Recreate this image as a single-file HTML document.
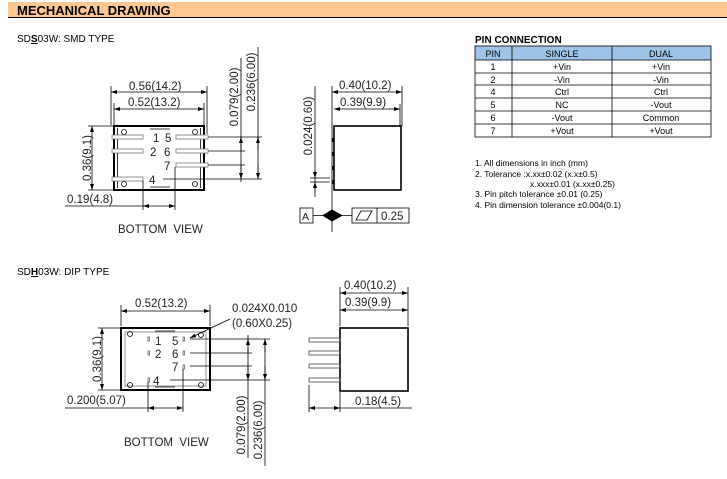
<!DOCTYPE html>
<html><head><meta charset="utf-8"><style>
html,body{margin:0;padding:0;background:#fff;width:727px;height:479px;overflow:hidden}
svg{display:block}
text{font-family:"Liberation Sans",sans-serif}
.d{font-size:11.5px;fill:#222}
.t{font-size:9px;fill:#000}
.n{font-size:8.5px;fill:#000}
</style></head><body>
<svg width="727" height="479" viewBox="0 0 727 479" xmlns="http://www.w3.org/2000/svg">
<defs>
<marker id="a" markerWidth="6" markerHeight="6" refX="6" refY="3" orient="auto-start-reverse" markerUnits="userSpaceOnUse"><path d="M0,1 L6,3 L0,5 z" fill="#000"/></marker>
</defs>
<!-- header -->
<rect x="8" y="2" width="719" height="15" fill="#FDC894"/>
<line x1="8" y1="17.5" x2="727" y2="17.5" stroke="#000" stroke-width="1"/>
<text x="17" y="15" font-size="13" font-weight="bold">MECHANICAL DRAWING</text>
<text x="17" y="42" font-size="10">SD<tspan text-decoration="underline" font-weight="bold">S</tspan>03W: SMD TYPE</text>

<g stroke="#000" fill="none" stroke-width="0.8">
<!-- SMD body -->
<rect x="114" y="126" width="90" height="64" stroke-width="2"/>
<line x1="117.5" y1="128" x2="117.5" y2="188"/><line x1="200.5" y1="128" x2="200.5" y2="188"/>
<line x1="150" y1="129" x2="170" y2="129"/><line x1="150" y1="187" x2="170" y2="187"/>
<circle cx="124" cy="132" r="2.5"/><circle cx="195" cy="132" r="2.5"/><circle cx="124" cy="184" r="2.5"/><circle cx="195" cy="184" r="2.5"/>
<g fill="#fff" stroke="#777">
<rect x="112" y="135" width="31" height="4"/><rect x="112" y="149" width="31" height="4"/><rect x="112" y="177" width="31" height="4"/>
<rect x="176" y="135" width="32" height="4"/><rect x="176" y="149" width="32" height="4"/><rect x="176" y="163" width="32" height="4"/>
</g>
<!-- dims -->
<line x1="111" y1="86" x2="111" y2="125"/><line x1="207" y1="86" x2="207" y2="134"/>
<line x1="111" y1="92" x2="207" y2="92" marker-start="url(#a)" marker-end="url(#a)"/>
<line x1="114" y1="103" x2="114" y2="125"/><line x1="204" y1="103" x2="204" y2="125"/>
<line x1="114" y1="109" x2="204" y2="109" marker-start="url(#a)" marker-end="url(#a)"/>
<line x1="88" y1="126" x2="114" y2="126"/><line x1="88" y1="190" x2="114" y2="190"/>
<line x1="92" y1="126" x2="92" y2="190" marker-start="url(#a)" marker-end="url(#a)"/>
<line x1="65" y1="206" x2="143" y2="206"/>
<line x1="143" y1="181" x2="143" y2="210"/><line x1="175" y1="167" x2="175" y2="210"/>
<line x1="143" y1="206" x2="175" y2="206" marker-start="url(#a)" marker-end="url(#a)"/>
<line x1="208" y1="137" x2="262" y2="137"/><line x1="208" y1="151" x2="245" y2="151"/>
<line x1="208" y1="165" x2="245" y2="165"/><line x1="163" y1="179" x2="262" y2="179"/>
<line x1="241" y1="58" x2="241" y2="182"/>
<line x1="241" y1="151" x2="241" y2="137" marker-end="url(#a)"/>
<line x1="241" y1="165" x2="241" y2="179" marker-end="url(#a)"/>
<line x1="258" y1="47" x2="258" y2="179" />
<line x1="258" y1="150" x2="258" y2="137" marker-end="url(#a)"/>
<line x1="258" y1="165" x2="258" y2="179" marker-end="url(#a)"/>
<!-- SMD side -->
<rect x="334" y="126" width="67" height="64" stroke-width="1.6"/>
<line x1="332" y1="86" x2="332" y2="232"/>
<line x1="402" y1="86" x2="402" y2="126"/><line x1="400" y1="104" x2="400" y2="126"/>
<line x1="332" y1="92" x2="402" y2="92" marker-start="url(#a)" marker-end="url(#a)"/>
<line x1="334" y1="109" x2="400" y2="109" marker-start="url(#a)" marker-end="url(#a)"/>
<line x1="315" y1="86" x2="315" y2="197"/>
<line x1="310" y1="178" x2="330" y2="178"/><line x1="310" y1="182" x2="330" y2="182"/>
<line x1="315" y1="170" x2="315" y2="178" marker-end="url(#a)"/>
<line x1="315" y1="192" x2="315" y2="182" marker-end="url(#a)"/>
<g stroke-width="1.5"><line x1="333" y1="138" x2="333" y2="142"/><line x1="333" y1="152" x2="333" y2="156"/><line x1="333" y1="166" x2="333" y2="170"/><line x1="333" y1="180" x2="333" y2="184"/></g>
<rect x="300" y="208" width="13" height="15"/>
<line x1="313" y1="215.5" x2="352" y2="215.5"/>
<path d="M323,215.5 L332,210 L342,215.5 L332,221 z" fill="#000"/>
<rect x="352" y="208" width="57" height="15"/><line x1="377" y1="208" x2="377" y2="223"/>
<path d="M356,220 L361,211 L372,211 L367,220 z"/>

<!-- DIP body -->
<rect x="121" y="328" width="89" height="62" stroke-width="2"/>
<rect x="125" y="332" width="81" height="54" stroke="#777"/>
<line x1="155" y1="331" x2="175" y2="331"/><line x1="155" y1="387" x2="175" y2="387"/>
<circle cx="130" cy="334" r="2.5"/><circle cx="201" cy="335" r="2.5"/><circle cx="130" cy="385" r="2.5"/><circle cx="201" cy="385" r="2.5"/>
<g stroke="#666"><rect x="148" y="337" width="1.5" height="4"/><rect x="148" y="351" width="1.5" height="4"/><rect x="148" y="378" width="1.5" height="4"/>
<rect x="183" y="337" width="1.5" height="4"/><rect x="183" y="351" width="1.5" height="4"/><rect x="183" y="365" width="1.5" height="4"/></g>
<line x1="121" y1="305" x2="121" y2="326"/><line x1="210" y1="305" x2="210" y2="326"/>
<line x1="121" y1="311" x2="210" y2="311" marker-start="url(#a)" marker-end="url(#a)"/>
<line x1="230" y1="319" x2="190" y2="338" marker-end="url(#a)"/>
<line x1="190" y1="339" x2="270" y2="339"/><line x1="190" y1="353" x2="252" y2="353"/>
<line x1="190" y1="366" x2="252" y2="366"/><line x1="170" y1="380" x2="270" y2="380"/>
<line x1="248" y1="335" x2="248" y2="458"/>
<line x1="248" y1="352" x2="248" y2="339" marker-end="url(#a)"/>
<line x1="248" y1="366" x2="248" y2="380" marker-end="url(#a)"/>
<line x1="265" y1="339" x2="265" y2="466"/>
<line x1="265" y1="352" x2="265" y2="339" marker-end="url(#a)"/>
<line x1="265" y1="366" x2="265" y2="380" marker-end="url(#a)"/>
<line x1="98" y1="328" x2="121" y2="328"/><line x1="98" y1="390" x2="121" y2="390"/>
<line x1="102" y1="328" x2="102" y2="390" marker-start="url(#a)" marker-end="url(#a)"/>
<line x1="65" y1="408" x2="148" y2="408"/>
<line x1="148" y1="382" x2="148" y2="412"/><line x1="183" y1="369" x2="183" y2="412"/>
<line x1="148" y1="408" x2="183" y2="408" marker-start="url(#a)" marker-end="url(#a)"/>
<!-- DIP side -->
<rect x="340" y="328" width="68" height="63" stroke-width="1.6"/>
<g stroke="#444"><rect x="309" y="338" width="31" height="4"/><rect x="309" y="351" width="31" height="4"/><rect x="309" y="364" width="31" height="4"/><rect x="309" y="378" width="31" height="4"/></g>
<line x1="340" y1="287" x2="340" y2="326"/><line x1="408" y1="287" x2="408" y2="326"/>
<line x1="340" y1="293" x2="408" y2="293" marker-start="url(#a)" marker-end="url(#a)"/>
<line x1="340" y1="310" x2="408" y2="310" marker-start="url(#a)" marker-end="url(#a)"/>
<line x1="309" y1="385" x2="309" y2="412"/><line x1="340" y1="392" x2="340" y2="412"/>
<line x1="309" y1="408" x2="340" y2="408" marker-start="url(#a)" marker-end="url(#a)"/>
<line x1="340" y1="408" x2="412" y2="408"/>
</g>

<!-- SMD texts -->
<g class="d">
<text x="153" y="142">1</text><text x="165" y="142">5</text>
<text x="150" y="156">2</text><text x="164" y="156">6</text>
<text x="164" y="170">7</text><text x="149" y="184">4</text>
<text x="129" y="90">0.56(14.2)</text><text x="128" y="106">0.52(13.2)</text>
<text x="67" y="203">0.19(4.8)</text>
<text x="118" y="233">BOTTOM&#160;&#160;VIEW</text>
<text transform="translate(91,158) rotate(-90)" text-anchor="middle">0.36(9.1)</text>
<text transform="translate(238,97) rotate(-90)" text-anchor="middle">0.079(2.00)</text>
<text transform="translate(255,82) rotate(-90)" text-anchor="middle">0.236(6.00)</text>
<text x="339" y="89">0.40(10.2)</text><text x="340" y="106">0.39(9.9)</text>
<text transform="translate(312,126) rotate(-90)" text-anchor="middle">0.024(0.60)</text>
<text x="302" y="220" font-size="10.5">A</text><text x="381" y="220">0.25</text>
<!-- DIP -->
<text x="155" y="345">1</text><text x="172" y="345">5</text>
<text x="155" y="358">2</text><text x="172" y="358">6</text>
<text x="172" y="371">7</text><text x="153" y="385">4</text>
<text x="135" y="307">0.52(13.2)</text>
<text x="232" y="312">0.024X0.010</text><text x="232" y="327">(0.60X0.25)</text>
<text x="67" y="404">0.200(5.07)</text>
<text x="124" y="446">BOTTOM&#160;&#160;VIEW</text>
<text transform="translate(101,359) rotate(-90)" text-anchor="middle">0.36(9.1)</text>
<text transform="translate(245,425) rotate(-90)" text-anchor="middle">0.079(2.00)</text>
<text transform="translate(262,430) rotate(-90)" text-anchor="middle">0.236(6.00)</text>
<text x="344" y="289">0.40(10.2)</text><text x="345" y="306">0.39(9.9)</text>
<text x="355" y="405">0.18(4.5)</text>
</g>
<text x="17" y="275" font-size="10">SD<tspan text-decoration="underline" font-weight="bold">H</tspan>03W: DIP TYPE</text>

<!-- table -->
<text x="475" y="43" font-size="10" font-weight="bold">PIN CONNECTION</text>
<rect x="475" y="46" width="236" height="14" fill="#9DC3E6"/>
<g stroke="#000" stroke-width="0.8" fill="none">
<rect x="475" y="46" width="236" height="91"/>
<line x1="512" y1="46" x2="512" y2="137"/><line x1="612" y1="46" x2="612" y2="137"/>
<line x1="475" y1="60" x2="711" y2="60"/><line x1="475" y1="73" x2="711" y2="73"/><line x1="475" y1="85" x2="711" y2="85"/>
<line x1="475" y1="98" x2="711" y2="98"/><line x1="475" y1="111" x2="711" y2="111"/><line x1="475" y1="124" x2="711" y2="124"/>
</g>
<g class="t" text-anchor="middle">
<text x="493" y="57">PIN</text><text x="562" y="57">SINGLE</text><text x="661" y="57">DUAL</text>
<text x="493" y="70">1</text><text x="562" y="70">+Vin</text><text x="661" y="70">+Vin</text>
<text x="493" y="83">2</text><text x="562" y="83">-Vin</text><text x="661" y="83">-Vin</text>
<text x="493" y="95">4</text><text x="562" y="95">Ctrl</text><text x="661" y="95">Ctrl</text>
<text x="493" y="108">5</text><text x="562" y="108">NC</text><text x="661" y="108">-Vout</text>
<text x="493" y="121">6</text><text x="562" y="121">-Vout</text><text x="661" y="121">Common</text>
<text x="493" y="134">7</text><text x="562" y="134">+Vout</text><text x="661" y="134">+Vout</text>
</g>
<g class="n">
<text x="475" y="166">1. All dimensions in inch (mm)</text>
<text x="475" y="177">2. Tolerance :x.xx±0.02 (x.x±0.5)</text>
<text x="530" y="187">x.xxx±0.01 (x.xx±0.25)</text>
<text x="475" y="197">3. Pin pitch tolerance ±0.01 (0.25)</text>
<text x="475" y="208">4. Pin dimension tolerance ±0.004(0.1)</text>
</g>
</svg>
</body></html>
